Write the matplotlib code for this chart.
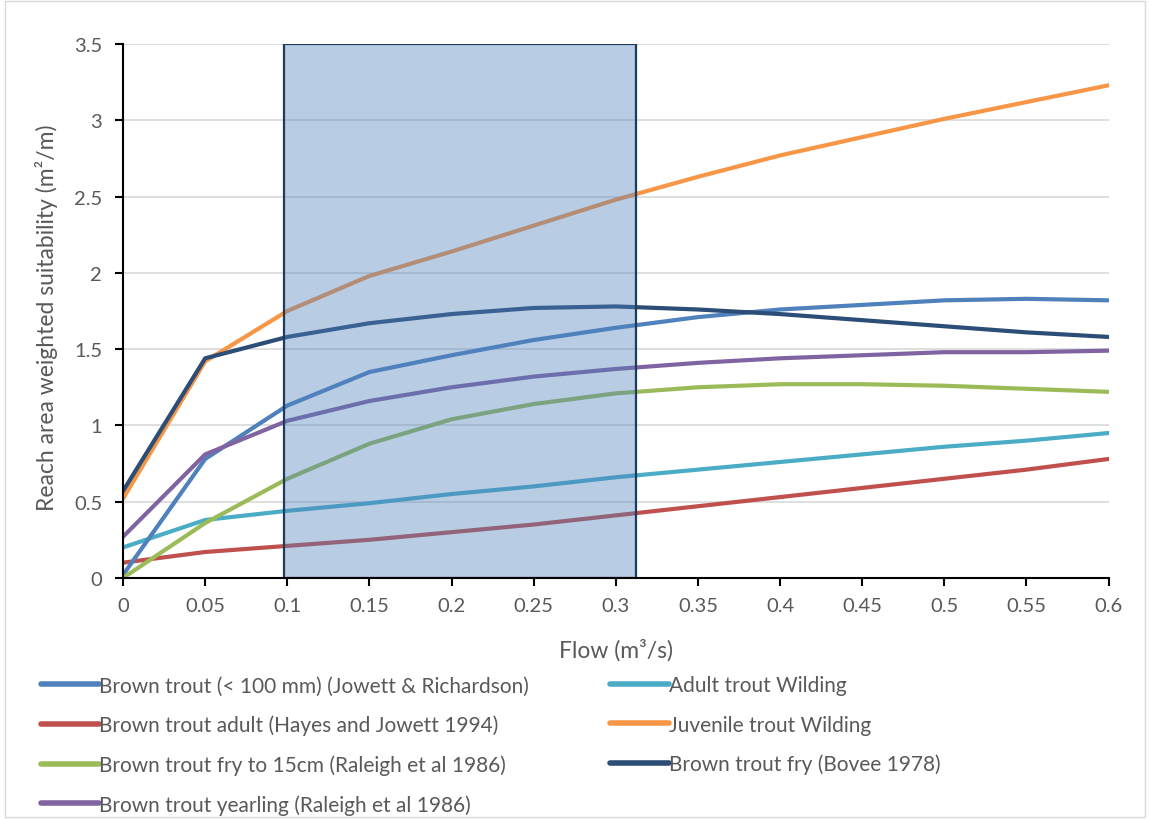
import matplotlib
matplotlib.use("Agg")
import matplotlib.pyplot as plt
from matplotlib.patches import Rectangle

plt.rcParams['font.family'] = ['Lato', 'DejaVu Sans']

flow = [0, 0.05, 0.1, 0.15, 0.2, 0.25, 0.3, 0.35, 0.4, 0.45, 0.5, 0.55, 0.6]
jowett = [0.02, 0.78, 1.13, 1.35, 1.46, 1.56, 1.64, 1.71, 1.76, 1.79, 1.82, 1.83, 1.82]
hayes = [0.10, 0.17, 0.21, 0.25, 0.30, 0.35, 0.41, 0.47, 0.53, 0.59, 0.65, 0.71, 0.78]
fry15 = [0.00, 0.36, 0.65, 0.88, 1.04, 1.14, 1.21, 1.25, 1.27, 1.27, 1.26, 1.24, 1.22]
yearling = [0.27, 0.81, 1.03, 1.16, 1.25, 1.32, 1.37, 1.41, 1.44, 1.46, 1.48, 1.48, 1.49]
adult_wild = [0.20, 0.38, 0.44, 0.49, 0.55, 0.60, 0.66, 0.71, 0.76, 0.81, 0.86, 0.90, 0.95]
juv_wild = [0.52, 1.42, 1.75, 1.98, 2.14, 2.31, 2.48, 2.63, 2.77, 2.89, 3.01, 3.12, 3.23]
bovee = [0.57, 1.44, 1.58, 1.67, 1.73, 1.77, 1.78, 1.76, 1.73, 1.69, 1.65, 1.61, 1.58]

range_lo, range_hi = 0.098, 0.312
y_max = 3.5

xtick_labels = ['0', '0.05', '0.1', '0.15', '0.2', '0.25', '0.3', '0.35',
                '0.4', '0.45', '0.5', '0.55', '0.6']
yticks = [0, 0.5, 1, 1.5, 2, 2.5, 3, 3.5]
ytick_labels = ['0', '0.5', '1', '1.5', '2', '2.5', '3', '3.5']

labels = {
    'jowett': 'Brown trout (< 100 mm) (Jowett & Richardson)',
    'hayes': 'Brown trout adult (Hayes and Jowett 1994)',
    'fry15': 'Brown trout fry to 15cm (Raleigh et al 1986)',
    'yearling': 'Brown trout yearling (Raleigh et al 1986)',
    'adult_wild': 'Adult trout Wilding',
    'juv_wild': 'Juvenile trout Wilding',
    'bovee': 'Brown trout fry (Bovee 1978)',
}
colors = {
    'jowett': '#4F81BD', 'hayes': '#C0504D', 'fry15': '#9BBB59',
    'yearling': '#8064A2', 'adult_wild': '#4BACC6', 'juv_wild': '#F79646',
    'bovee': '#2C4D75',
}
data = {'jowett': jowett, 'hayes': hayes, 'fry15': fry15, 'yearling': yearling,
        'adult_wild': adult_wild, 'juv_wild': juv_wild, 'bovee': bovee}

fig = plt.figure(figsize=(11.5, 8.2), dpi=100)
ax = fig.add_axes([0.107, 0.294, 0.857, 0.651])

draw_order = ['hayes', 'adult_wild', 'jowett', 'fry15', 'yearling', 'juv_wild', 'bovee']
handles = {}
for i, k in enumerate(draw_order):
    ln, = ax.plot(flow, data[k], color=colors[k], lw=3.0, label=labels[k],
                  solid_capstyle='round', zorder=3 + i)
    handles[k] = ln

ax.add_patch(Rectangle((range_lo, 0), range_hi - range_lo, y_max,
                       facecolor='#4F81BD', alpha=0.4, edgecolor='none', zorder=20))
ax.add_patch(Rectangle((range_lo, 0), range_hi - range_lo, y_max,
                       facecolor='none', edgecolor='#1F3A5F', lw=1.6, zorder=21))

ax.set_xlim(0, 0.6)
ax.set_ylim(0, 3.5)
ax.set_xticks(flow)
ax.set_xticklabels(xtick_labels)
ax.set_yticks(yticks)
ax.set_yticklabels(ytick_labels)
ax.grid(axis='y', color='#D9D9D9', lw=1.2, zorder=0)
ax.set_axisbelow(True)
for s in ['top', 'right']:
    ax.spines[s].set_visible(False)
for s in ['left', 'bottom']:
    ax.spines[s].set_color('black')
    ax.spines[s].set_linewidth(1.5)
    ax.spines[s].set_zorder(25)
ax.tick_params(axis='both', direction='out', length=6, width=1.5, colors='black',
               labelcolor='#595959', labelsize=14.5)
ax.tick_params(axis='x', pad=8)
ax.tick_params(axis='y', pad=9)
ax.set_xlabel('Flow (m³/s)', fontsize=16.5, color='#595959', va='top')
ax.xaxis.set_label_coords(0.5, -0.112)
ax.set_ylabel('Reach area weighted suitability (m²/m)', fontsize=16.5,
              color='#595959')
ax.yaxis.set_label_coords(-0.066, 0.49)

leg_order = ['jowett', 'hayes', 'fry15', 'yearling', 'adult_wild', 'juv_wild', 'bovee']
leg = fig.legend([handles[k] for k in leg_order], [labels[k] for k in leg_order],
                 ncol=2, loc='upper left', bbox_to_anchor=(0.019, 0.198),
                 frameon=False, fontsize=15, handlelength=2.8, handletextpad=0.02,
                 columnspacing=3.9, labelspacing=0.92, labelcolor='#595959')
for l in leg.get_lines():
    l.set_linewidth(4)

fig.patches.append(Rectangle((0.004, 0.002), 0.992, 0.996, transform=fig.transFigure,
                             fill=False, edgecolor='#D9D9D9', lw=1))

fig.savefig('out.png', dpi=100)
